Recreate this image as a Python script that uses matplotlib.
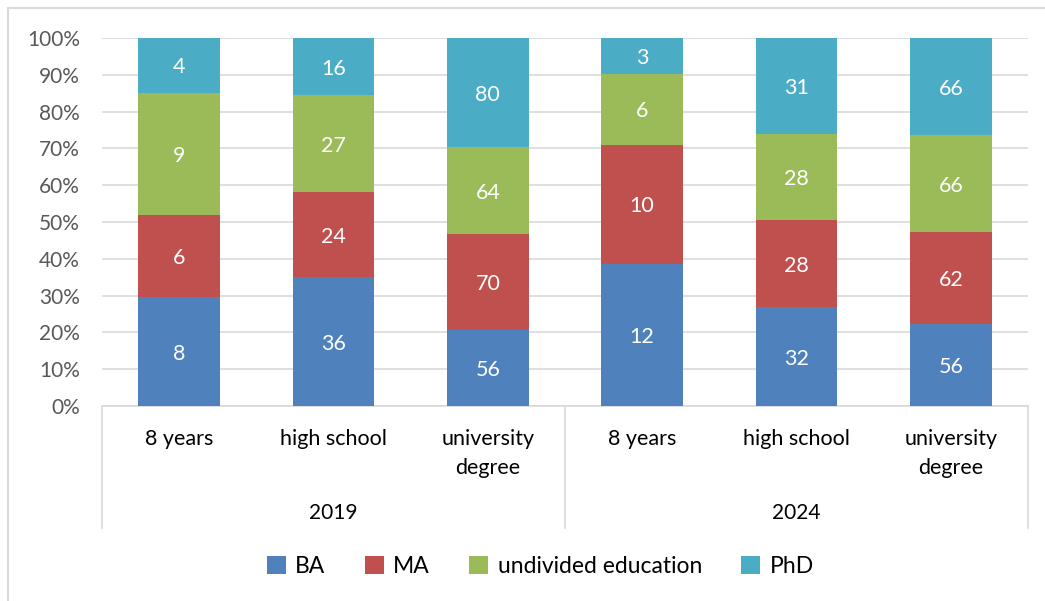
import numpy as np
import matplotlib
matplotlib.use('Agg')
import matplotlib.pyplot as plt
from matplotlib.lines import Line2D

plt.rcParams['font.family'] = ['Lato', 'DejaVu Sans']

## chart data
categories = ['8 years', 'high school', 'university\ndegree',
              '8 years', 'high school', 'university\ndegree']
years = ['2019', '2024']
series = ['BA', 'MA', 'undivided education', 'PhD']
ba = [8, 36, 56, 12, 32, 56]
ma = [6, 24, 70, 10, 28, 62]
undivided = [9, 27, 64, 6, 28, 66]
phd = [4, 16, 80, 3, 31, 66]
colors = ['#4F81BD', '#C0504D', '#9BBB59', '#4BACC6']

counts = np.array([ba, ma, undivided, phd], dtype=float)
share = counts / counts.sum(axis=0)

fig = plt.figure(figsize=(10.45, 6.01), dpi=100, facecolor='white')
ax = fig.add_axes([102 / 1045, 1 - 406 / 601, 926 / 1045, 368 / 601])

x = np.arange(len(categories))
bottom = np.zeros(len(categories))
for i, name in enumerate(series):
    ax.bar(x, share[i], 0.53, bottom=bottom, color=colors[i], label=name, zorder=3)
    for xi, b, h, c in zip(x, bottom, share[i], counts[i]):
        ax.text(xi, b + h / 2 - 0.006, '{:d}'.format(int(c)), ha='center', va='center',
                color='white', fontsize=15.5, zorder=4)
    bottom += share[i]

ax.set_xlim(-0.5, len(categories) - 0.5)
ax.set_ylim(0, 1)
ax.set_yticks(np.arange(0, 1.01, 0.1))
ax.set_yticklabels(['{:d}%'.format(int(round(v * 100))) for v in np.arange(0, 1.01, 0.1)])
ax.tick_params(axis='y', length=0, pad=16, labelsize=15, labelcolor='#595959')
ax.set_xticks([])
ax.grid(axis='y', color='#D9D9D9', linewidth=1.2, zorder=0)
for s in ['top', 'right', 'left']:
    ax.spines[s].set_visible(False)
ax.spines['bottom'].set_color('#D9D9D9')
ax.spines['bottom'].set_linewidth(1.2)

## two-level category axis
tr = ax.get_xaxis_transform()
for xs in [-0.5, 2.5, 5.5]:
    ax.add_line(Line2D([xs, xs], [0, -0.3315], transform=tr, color='#D9D9D9',
                       linewidth=1.2, clip_on=False))
for xi, lab in zip(x, categories):
    ax.text(xi, -0.063, lab, transform=tr, ha='center', va='top', fontsize=15.5,
            color='black', linespacing=1.55)
for j, yr in enumerate(years):
    ax.text(1 + 3 * j, -0.291, yr, transform=tr, ha='center', va='center',
            fontsize=15, color='black')

fig.legend(loc='center', bbox_to_anchor=(0.517, 0.058), ncol=4, frameon=False,
           fontsize=16.5, handlelength=0.85, handleheight=0.85, handletextpad=0.4,
           columnspacing=1.7)

## chart border
fig.add_artist(Line2D([8 / 1045, 8 / 1045], [0, 1 - 8 / 601], color='#D9D9D9', linewidth=1.5))
fig.add_artist(Line2D([8 / 1045, 1], [1 - 8 / 601, 1 - 8 / 601], color='#D9D9D9', linewidth=1.5))

fig.savefig('out.png', dpi=100, facecolor='white')
